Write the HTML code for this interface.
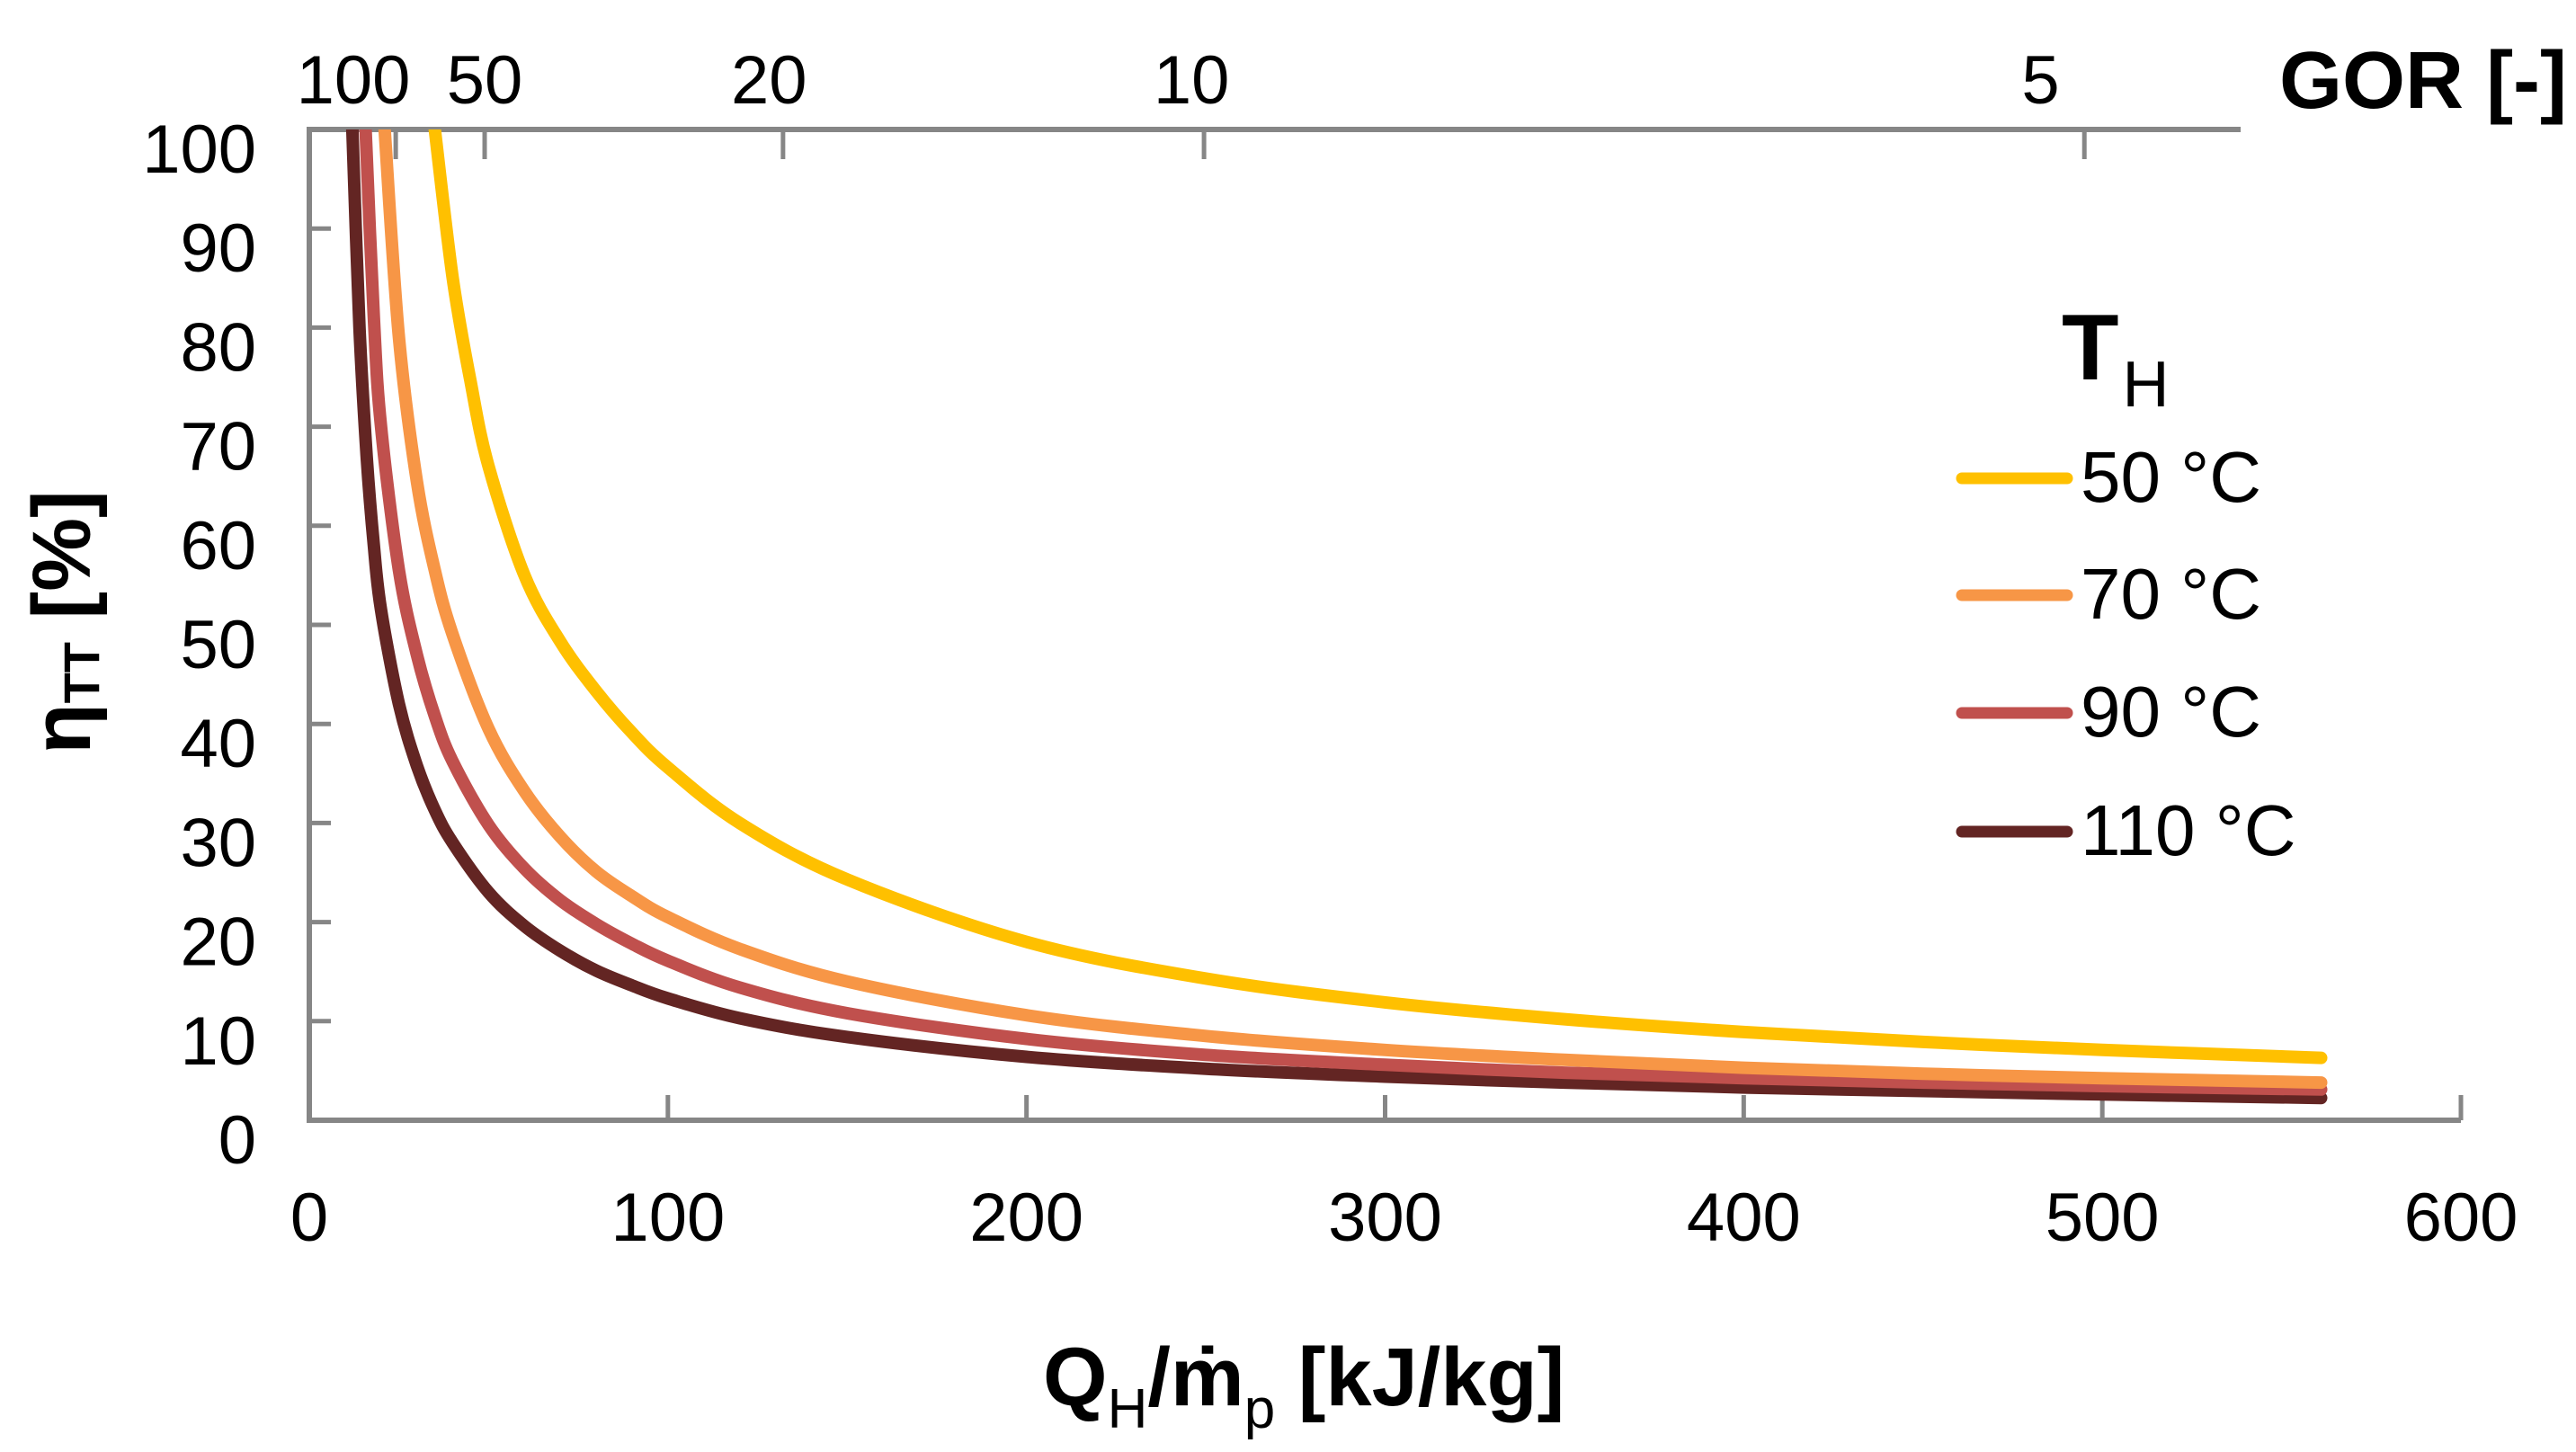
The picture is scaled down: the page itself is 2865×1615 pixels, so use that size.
<!DOCTYPE html>
<html><head><meta charset="utf-8"><style>
html,body{margin:0;padding:0;background:#fff;}
svg{display:block;}
text{font-family:"Liberation Sans",sans-serif;fill:#000;}
</style></head><body>
<svg id="chart" width="2865" height="1615" viewBox="0 0 2865 1615" xmlns="http://www.w3.org/2000/svg">
<defs><clipPath id="plotclip"><rect x="344" y="144" width="2393" height="1102"/></clipPath></defs>
<g id="axes"></g>
<g id="series" clip-path="url(#plotclip)"></g>
<g id="legend">
  <text x="2293" y="422" font-size="104" font-weight="bold">T<tspan font-size="72" font-weight="normal" dy="30" dx="4">H</tspan></text>
</g>
<text x="2535" y="120" font-size="90" font-weight="bold" textLength="320" lengthAdjust="spacingAndGlyphs">GOR [-]</text>
<text x="1160" y="1563" font-size="92" font-weight="bold">Q<tspan font-size="62" font-weight="normal" dy="25">H</tspan><tspan dy="-25">/ṁ</tspan><tspan font-size="62" font-weight="normal" dy="25">p</tspan><tspan dy="-25"> [kJ/kg]</tspan></text>
<text transform="translate(100,692) rotate(-90)" text-anchor="middle" font-size="92" font-weight="bold">η<tspan font-size="56" dy="10">TT</tspan><tspan dy="-10"> [%]</tspan></text>
</svg>
<script>
const xTicks = [0, 100, 200, 300, 400, 500, 600];
const yTicks = [0, 10, 20, 30, 40, 50, 60, 70, 80, 90, 100];
const gorLabels = ["100", "50", "20", "10", "5"];
const gorTickQ = [24.1, 48.9, 132.1, 249.5, 495.0];
const gorLabelQ = [12.3, 48.9, 128.2, 246.0, 482.8];
const seriesNames = ["50 °C", "70 °C", "90 °C", "110 °C"];
const seriesColors = ["#FFC000", "#F79646", "#C0504D", "#632523"];
const q50 = [35, 40, 45, 50, 60, 70, 80, 90, 100, 120, 150, 200, 250, 300, 350, 400, 450, 500, 561];
const eta50 = [100, 85, 74.5, 66, 55, 48.3, 43.3, 39.1, 35.6, 30, 24.3, 18, 14.3, 11.9, 10.2, 8.9, 7.9, 7.1, 6.3];
const q70 = [21, 25, 30, 35, 40, 50, 60, 70, 80, 90, 100, 120, 150, 200, 250, 300, 350, 400, 450, 500, 561];
const eta70 = [100, 79, 64.5, 55.5, 49, 39.5, 33.2, 28.6, 25.1, 22.6, 20.5, 17.3, 14, 10.6, 8.5, 7.1, 6.1, 5.3, 4.7, 4.25, 3.8];
const q90 = [15.7, 18, 20, 25, 30, 35, 40, 50, 60, 70, 80, 90, 100, 120, 150, 200, 250, 300, 350, 400, 450, 500, 561];
const eta90 = [100, 81, 70, 55.5, 47, 40.8, 36.2, 29.8, 25.4, 22.2, 19.8, 17.8, 16.1, 13.4, 10.8, 8.2, 6.6, 5.6, 4.8, 4.25, 3.8, 3.45, 3.1];
const q110 = [12, 14, 16, 18, 20, 25, 30, 35, 40, 50, 60, 70, 80, 90, 100, 120, 150, 200, 250, 300, 350, 400, 450, 500, 561];
const eta110 = [100, 80, 67, 58, 51.5, 42, 35.8, 31.3, 28, 23, 19.6, 17.1, 15.1, 13.6, 12.3, 10.3, 8.4, 6.4, 5.2, 4.4, 3.8, 3.3, 2.95, 2.6, 2.25];

const NS = "http://www.w3.org/2000/svg";
const X0 = 344, X1 = 2737, Y0 = 1246, Y1 = 144;
function xs(v){ return X0 + (v - 0) / 600 * (X1 - X0); }
function ys(v){ return Y0 - (v - 0) / 100 * (Y0 - Y1); }
function mk(tag, attrs, parent){ const e = document.createElementNS(NS, tag); for (const k in attrs) e.setAttribute(k, attrs[k]); parent.appendChild(e); return e; }

const axes = document.getElementById("axes");
const gray = "#868686";
let l;
l = mk("line", {x1:X0, y1:Y0, x2:X1, y2:Y0, stroke:gray, "stroke-width":6}, axes);


l = mk("line", {x1:X0, y1:Y1-3, x2:X0, y2:Y0+3, stroke:gray, "stroke-width":6}, axes);


l = mk("line", {x1:X0-3, y1:Y1, x2:2492, y2:Y1, stroke:gray, "stroke-width":6}, axes);



xTicks.forEach(function(v){
  const x = xs(v);
  const t = mk("line", {x1:x, y1:Y0, x2:x, y2:Y0-28, stroke:gray, "stroke-width":5}, axes);
  
  
  const tx = mk("text", {x:x, y:1380, "font-size":76, "text-anchor":"middle"}, axes);
  tx.textContent = v;
  
  
});
yTicks.forEach(function(v){
  const y = ys(v);
  const t = mk("line", {x1:X0, y1:y, x2:X0+24, y2:y, stroke:gray, "stroke-width":5}, axes);
  
  
  const tx = mk("text", {x:285, y:y+48, "font-size":76, "text-anchor":"end"}, axes);
  tx.textContent = v;
  
  
});
gorTickQ.forEach(function(q){
  const x = xs(q);
  const t = mk("line", {x1:x, y1:Y1, x2:x, y2:Y1+33, stroke:gray, "stroke-width":5}, axes);
  
  
});
gorLabels.forEach(function(s, i){
  const tx = mk("text", {x:xs(gorLabelQ[i]), y:115, "font-size":76, "text-anchor":"middle"}, axes);
  tx.textContent = s;
  
  
});

function smoothPath(qs, es){
  const p = qs.map(function(q, i){ return [xs(q), ys(es[i])]; });
  let d = "M" + p[0][0].toFixed(1) + "," + p[0][1].toFixed(1);
  for (let i = 0; i < p.length - 1; i++){
    const a = p[Math.max(0, i-1)], b = p[i], c = p[i+1], e = p[Math.min(p.length-1, i+2)];
    const c1 = [b[0] + (c[0]-a[0])/6, b[1] + (c[1]-a[1])/6];
    const c2 = [c[0] - (e[0]-b[0])/6, c[1] - (e[1]-b[1])/6];
    d += " C" + c1[0].toFixed(1) + "," + c1[1].toFixed(1) + " " + c2[0].toFixed(1) + "," + c2[1].toFixed(1) + " " + c[0].toFixed(1) + "," + c[1].toFixed(1);
  }
  return d;
}
const seriesQ = [q50, q70, q90, q110];
const seriesEta = [eta50, eta70, eta90, eta110];
const sg = document.getElementById("series");
const lg = document.getElementById("legend");
const legendY = [532, 662, 793, 925];
[3, 2, 1, 0].forEach(function(i){
  const path = mk("path", {d:smoothPath(seriesQ[i], seriesEta[i]), fill:"none", stroke:seriesColors[i], "stroke-width":14, "stroke-linecap":"round", "stroke-linejoin":"round"}, sg);
  
  
});
seriesNames.forEach(function(n, i){
  const ln = mk("line", {x1:2182, y1:legendY[i], x2:2299, y2:legendY[i], stroke:seriesColors[i], "stroke-width":13, "stroke-linecap":"round"}, lg);
  
  
  const tx = mk("text", {x:2314, y:legendY[i]+26, "font-size":80}, lg);
  tx.textContent = n;
  
  
});
</script>
</body></html>
